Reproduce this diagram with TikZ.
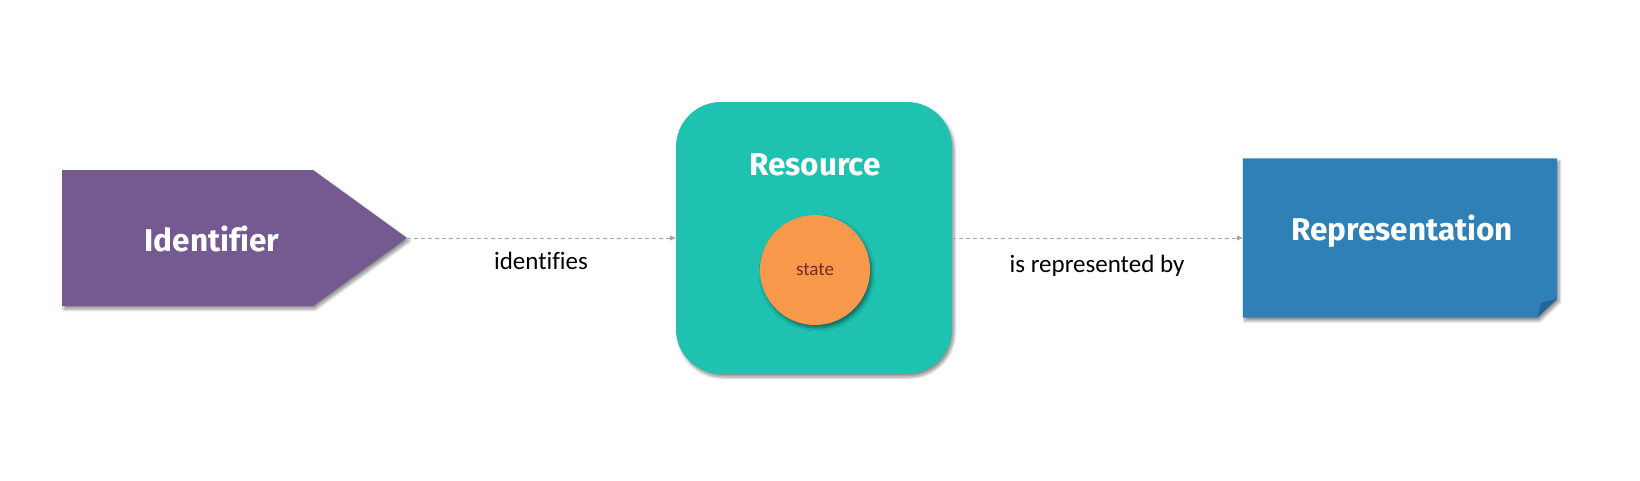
\documentclass[tikz,border=0pt]{standalone}
\usepackage{fontspec}
\setmainfont[Ligatures=NoCommon]{Fira Sans}
\newfontfamily\labelfont[Ligatures=NoCommon]{Carlito}
\usetikzlibrary{shadows.blur,arrows.meta}
\definecolor{idpurple}{RGB}{116,90,145}
\definecolor{resteal}{RGB}{31,193,176}
\definecolor{stateorange}{RGB}{247,152,74}
\definecolor{statetext}{RGB}{122,42,30}
\definecolor{repblue}{RGB}{48,128,184}
\definecolor{foldblue}{RGB}{38,100,150}
\definecolor{conngray}{RGB}{165,165,165}
\tikzset{
  shad/.style={blur shadow={shadow xshift=2pt, shadow yshift=-3pt, shadow blur radius=3pt, shadow blur steps=6, shadow opacity=45}},
  title/.style={text=white, font=\bfseries\fontsize{31.5}{38}\selectfont, inner sep=0pt},
  lbl/.style={text=black, font=\labelfont\fontsize{25}{30}\selectfont, inner sep=0pt},
  conn/.style={conngray, line width=1pt, dash pattern=on 4pt off 3pt, -{Triangle[length=6pt,width=5pt]}},
  resbox/.style={fill=resteal, draw=none, rounded corners=45pt, minimum width=276pt, minimum height=272pt, inner sep=0pt, shad},
  statecirc/.style={circle, fill=stateorange, draw=none, minimum size=110pt, inner sep=0pt, text=statetext, font=\labelfont\fontsize{19}{23}\selectfont, shad},
  ghost/.style={draw=none, inner sep=0pt}
}
\begin{document}
\begin{tikzpicture}[x=1pt,y=-1pt]
\useasboundingbox (0,0) rectangle (1640,480);
% Identifier
\fill[idpurple, shad] (62,170) -- (313,170) -- (407,238) -- (313,306) -- (62,306) -- cycle;
\coordinate (idtip) at (407,238);
\node[title] (idlabel) at (212,239) {Identifier};
% Resource
\node[resbox] (res) at (814,238) {};
\node[title] (restitle) at (815,165) {Resource};
\node[statecirc] (state) at (815,270) {state};
% Representation
\node[ghost, minimum width=314pt, minimum height=159pt] (rep) at (1400,238) {};
\fill[repblue, shad] (rep.north west) -- (rep.north east) -- ([yshift=19pt]rep.south east) -- ([xshift=-20pt]rep.south east) -- (rep.south west) -- cycle;
\fill[foldblue] ([xshift=-20pt]rep.south east) -- ([xshift=-16pt,yshift=15pt]rep.south east) -- ([yshift=19pt]rep.south east) -- cycle;
\node[title] (reptitle) at (1402,231) {Representation};
% Connectors
\draw[conn] (idtip) -- (res.west);
\draw[conn] (res.east) -- (rep.west);
\node[lbl] (l1) at (541,261) {identifies};
\node[lbl] (l2) at (1097,266) {is represented by};
\end{tikzpicture}
\end{document}
